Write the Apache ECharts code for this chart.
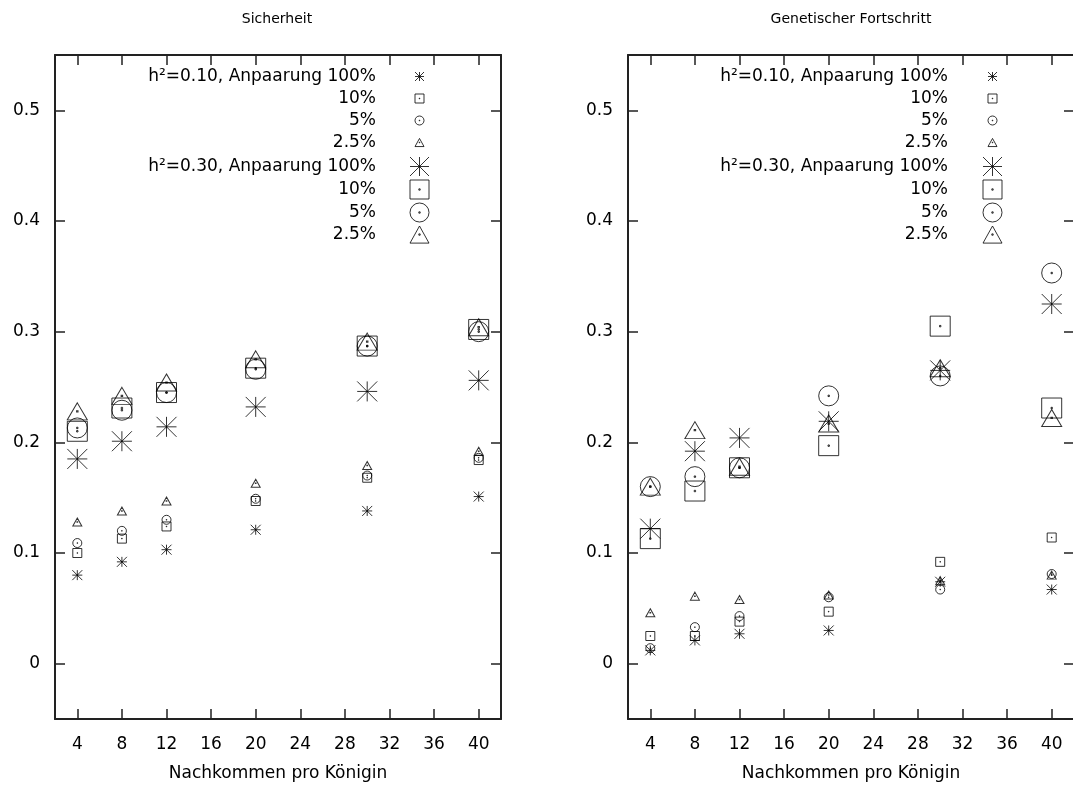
<!DOCTYPE html>
<html>
<head>
<meta charset="utf-8">
<script src="https://cdn.jsdelivr.net/npm/echarts@6/dist/echarts.min.js"></script>
<style>
html, body { margin: 0; padding: 0; background: #fff; }
#main { width: 1073px; height: 787px; }
</style>
</head>
<body>
<div id="main"></div>
<script>
// Nachkommen pro Königin (x-Werte)
var nachkommen = [4, 8, 12, 20, 30, 40];

// Sicherheit, h2 = 0.10
var sich_h10_100 = [0.080, 0.092, 0.103, 0.121, 0.138, 0.151];
var sich_h10_10  = [0.100, 0.113, 0.124, 0.147, 0.168, 0.184];
var sich_h10_5   = [0.109, 0.120, 0.130, 0.149, 0.170, 0.186];
var sich_h10_25  = [0.128, 0.138, 0.147, 0.163, 0.179, 0.192];
// Sicherheit, h2 = 0.30
var sich_h30_100 = [0.185, 0.201, 0.214, 0.232, 0.246, 0.256];
var sich_h30_10  = [0.210, 0.231, 0.245, 0.267, 0.287, 0.302];
var sich_h30_5   = [0.213, 0.229, 0.245, 0.266, 0.287, 0.300];
var sich_h30_25  = [0.228, 0.242, 0.254, 0.275, 0.291, 0.304];

// Genetischer Fortschritt, h2 = 0.10
var gen_h10_100 = [0.012, 0.021, 0.027, 0.030, 0.074, 0.067];
var gen_h10_10  = [0.025, 0.025, 0.038, 0.047, 0.092, 0.114];
var gen_h10_5   = [0.014, 0.033, 0.043, 0.060, 0.067, 0.081];
var gen_h10_25  = [0.046, 0.061, 0.058, 0.062, 0.075, 0.080];
// Genetischer Fortschritt, h2 = 0.30
var gen_h30_100 = [0.122, 0.192, 0.204, 0.219, 0.265, 0.325];
var gen_h30_10  = [0.113, 0.156, 0.177, 0.197, 0.305, 0.231];
var gen_h30_5   = [0.160, 0.169, 0.177, 0.242, 0.260, 0.353];
var gen_h30_25  = [0.160, 0.211, 0.178, 0.217, 0.267, 0.222];

// Legendentexte (Leerzeichen nur damit die Namen eindeutig sind)
var namen = ['h²=0.10, Anpaarung 100%', '10%', '5%', '2.5%',
             'h²=0.30, Anpaarung 100%', '10% ', '5% ', '2.5% '];
var titel = ['Sicherheit', 'Genetischer Fortschritt'];
var xName = 'Nachkommen pro Königin';

var schrift = 'DejaVu Sans';
var rahmen = '#222';
// gnuplot-artige Punkte, mit Punkt in der Mitte
var punkt = 'M-0.7,-0.7H0.7V0.7H-0.7Z';
var stern = 'path://M0,-10L0,10M-10,0L10,0M-10,-10L10,10M-10,10L10,-10';
var quadrat = 'path://M-10,-10H10V10H-10Z' + punkt;
var kreis = 'path://M10,0A10,10,0,1,1,-10,0A10,10,0,1,1,10,0Z' + punkt;
var dreieck = 'path://M0,-9L10,9L-10,9Z' + punkt;
var symbole = [stern, quadrat, kreis, dreieck];
var klein = [10, 9, 9, [9, 8]];
var gross = [20, 20, 20, [20, 17]];

var chart = echarts.init(document.getElementById('main'));

function punkte(name, werte, panel, symbol, size) {
    return {
        name: name,
        type: 'scatter',
        xAxisIndex: panel * 2,
        yAxisIndex: panel * 2,
        data: nachkommen.map(function (x, i) { return [x, werte[i]]; }),
        symbol: symbol,
        symbolSize: size,
        itemStyle: { color: 'rgba(0,0,0,0)', borderColor: '#000', borderWidth: 1 },
        emphasis: { disabled: true },
        silent: true
    };
}

function xAchse(panel, oben) {
    return {
        type: 'value', gridIndex: panel, position: oben ? 'top' : 'bottom',
        min: 2, max: 42, minInterval: 4, maxInterval: 4,
        axisLine: { show: true, onZero: false, lineStyle: { color: rahmen, width: 2 } },
        axisTick: { show: true, inside: true, length: 10, lineStyle: { color: rahmen, width: 1.5 } },
        axisLabel: { show: !oben, margin: 17, color: '#000', fontFamily: schrift, fontSize: 17,
                     showMinLabel: false, showMaxLabel: false },
        splitLine: { show: false },
        name: oben ? '' : xName,
        nameLocation: 'middle', nameGap: 46,
        nameTextStyle: { color: '#000', fontFamily: schrift, fontSize: 17 }
    };
}

function yAchse(panel, rechts) {
    return {
        type: 'value', gridIndex: panel, position: rechts ? 'right' : 'left',
        min: -0.05, max: 0.55, minInterval: 0.1, maxInterval: 0.1,
        axisLine: { show: true, onZero: false, lineStyle: { color: rahmen, width: 2 } },
        axisTick: { show: true, inside: true, length: 10, lineStyle: { color: rahmen, width: 1.5 } },
        axisLabel: { show: !rechts, margin: 15, color: '#000', fontFamily: schrift, fontSize: 17,
                     showMinLabel: false, showMaxLabel: false },
        splitLine: { show: false }
    };
}

function legende(rechts, top, daten, size, gap, abstand) {
    return {
        orient: 'vertical', align: 'right', right: rechts, top: top, padding: 0,
        itemWidth: size, itemHeight: size, itemGap: gap,
        data: daten, selectedMode: false,
        formatter: function (n) { return n.trim(); },
        itemStyle: { color: 'rgba(0,0,0,0)', borderColor: '#000', borderWidth: 1 },
        textStyle: { color: '#000', fontFamily: schrift, fontSize: 17, padding: [0, abstand, 0, 0] }
    };
}

var reihen = [
    [sich_h10_100, sich_h10_10, sich_h10_5, sich_h10_25, sich_h30_100, sich_h30_10, sich_h30_5, sich_h30_25],
    [gen_h10_100, gen_h10_10, gen_h10_5, gen_h10_25, gen_h30_100, gen_h30_10, gen_h30_5, gen_h30_25]
];

var series = [];
for (var p = 0; p < 2; p++) {
    for (var k = 0; k < 8; k++) {
        var s = k < 4 ? klein[k] : gross[k - 4];
        series.push(punkte(namen[k], reihen[p][k], p, symbole[k % 4], s));
    }
}

var option = {
    backgroundColor: '#fff',
    animation: false,
    title: [
        { text: titel[0], left: 277, top: 12, padding: 0, textAlign: 'center',
          textStyle: { color: '#000', fontFamily: schrift, fontSize: 14, fontWeight: 'normal' } },
        { text: titel[1], left: 851, top: 12, padding: 0, textAlign: 'center',
          textStyle: { color: '#000', fontFamily: schrift, fontSize: 14, fontWeight: 'normal' } }
    ],
    grid: [
        { left: 55, top: 55, width: 446, height: 664, outerBoundsMode: 'none' },
        { left: 628, top: 55, width: 446, height: 664, outerBoundsMode: 'none' }
    ],
    xAxis: [xAchse(0, false), xAchse(0, true), xAchse(1, false), xAchse(1, true)],
    yAxis: [yAchse(0, false), yAchse(0, true), yAchse(1, false), yAchse(1, true)],
    legend: [
        legende(648.5, 68, namen.slice(0, 4), 9, 5, 34),
        legende(643.5, 156.5, namen.slice(4), 19, 3, 29),
        legende(75.5, 68, namen.slice(0, 4), 9, 5, 35),
        legende(70.5, 156.5, namen.slice(4), 19, 3, 30)
    ],
    series: series
};

chart.setOption(option);
</script>
</body>
</html>
